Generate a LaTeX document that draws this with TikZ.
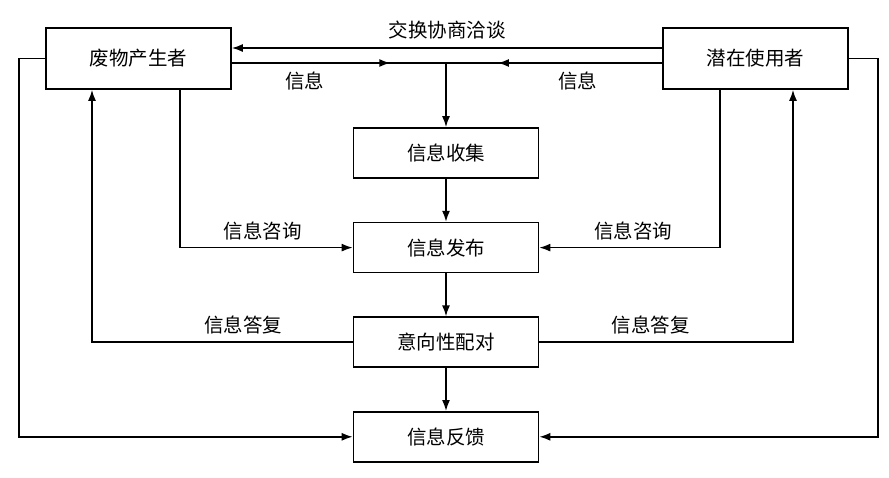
\documentclass[tikz,border=0pt]{standalone}
\usepackage{fontspec}
\setmainfont{Noto Sans CJK SC}
\usepackage{tikz}
\usetikzlibrary{calc,positioning,arrows.meta,decorations.markings}
\tikzset{
  line/.style={-{Latex[length=11pt,width=8pt]}, line width=1.6pt},
  plain/.style={line width=1.6pt},
  midarrow/.style={postaction={decorate}, decoration={markings,
      mark=at position #1 with {\arrow{Latex[length=11pt,width=8pt]}}}},
  box/.style={draw, line width=1.6pt, align=center, inner sep=3pt,
      font=\fontsize{19.5}{22}\selectfont},
  sidebox/.style={box, minimum width=185pt, minimum height=61pt},
  stepbox/.style={box, minimum width=185pt, minimum height=50pt},
  lbl/.style={font=\fontsize{19.5}{22}\selectfont, inner sep=2pt}
}
\begin{document}
\begin{tikzpicture}[x=1pt, y=-1pt, node distance=43pt]
  \useasboundingbox (0,0) rectangle (889,477);

  % the two parties
  \node[sidebox] (prod) at (138.5,58.5) {废物产生者};
  \node[sidebox] (user) at (755.5,58.5) {潜在使用者};

  % central column
  \node[stepbox] (collect) at (446,153) {信息收集};
  \node[stepbox, below=of collect] (publish) {信息发布};
  \node[stepbox, below=of publish] (match) {意向性配对};
  \node[stepbox, below=of match] (feedback) {信息反馈};

  % negotiation and information lines at the top
  \draw[line] ([yshift=10.5pt]user.west) -- node[lbl, above=6pt] {交换协商洽谈}
    ([yshift=10.5pt]prod.east);
  \coordinate (hub) at ([yshift=-4.5pt]prod.east -| collect.north);
  \draw[plain, midarrow=0.74] ([yshift=-4.5pt]prod.east) --
    node[lbl, pos=0.34, below=6pt] {信息} (hub);
  \draw[plain, midarrow=0.76] ([yshift=-4.5pt]user.west) --
    node[lbl, pos=0.39, below=6pt] {信息} (hub);
  \draw[line] (hub) -- (collect);

  \draw[line] (collect) -- (publish);
  \draw[line] (publish) -- (match);
  \draw[line] (match) -- (feedback);

  % consultation
  \draw[line] ([xshift=41.5pt]prod.south) |- node[lbl, pos=0.74, above=5pt] {信息咨询}
    (publish.west);
  \draw[line] ([xshift=-35.5pt]user.south) |- node[lbl, pos=0.74, above=5pt] {信息咨询}
    (publish.east);

  % replies
  \draw[line] (match.west) -| node[lbl, pos=0.21, above=5pt] {信息答复}
    ([xshift=-46.5pt]prod.south);
  \draw[line] (match.east) -| node[lbl, pos=0.22, above=5pt] {信息答复}
    ([xshift=37.5pt]user.south);

  % feedback loops
  \draw[line] (prod.west) -- ++(-26,0) |- (feedback.west);
  \draw[line] (user.east) -- ++(29,0) |- (feedback.east);
\end{tikzpicture}
\end{document}
